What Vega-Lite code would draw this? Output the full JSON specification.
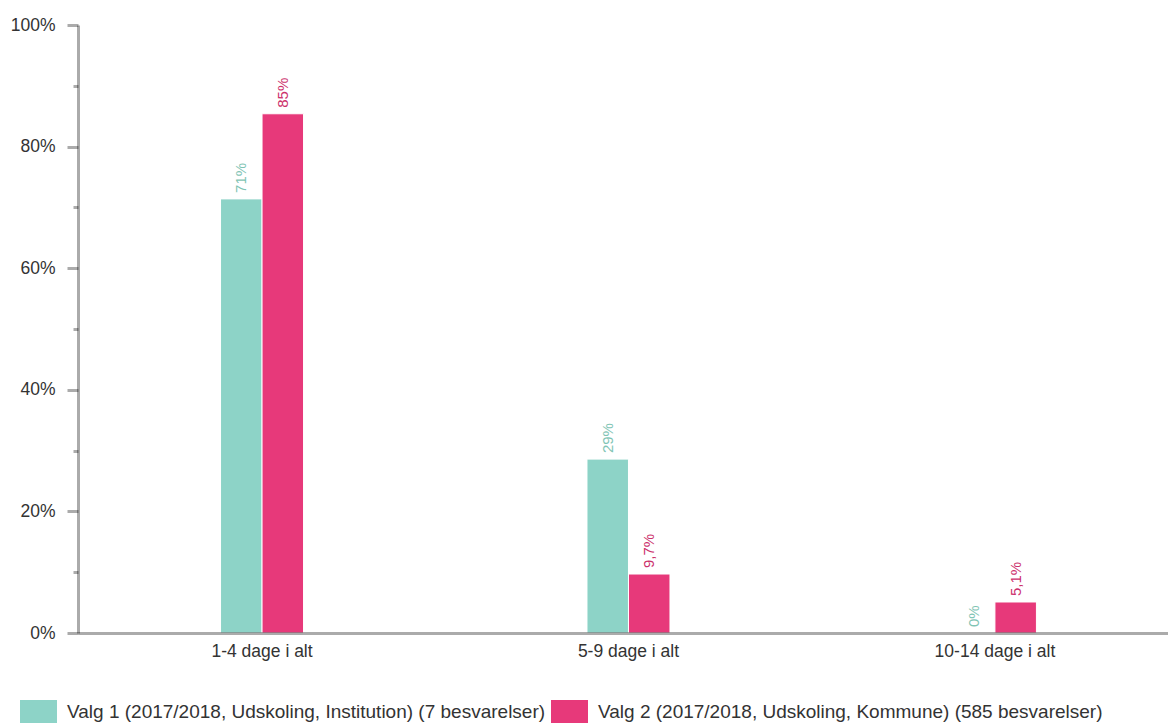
{
  "$schema": "https://vega.github.io/schema/vega-lite/v6.json",
  "width": 1090,
  "height": 608,
  "autosize": {"type": "pad"},
  "padding": {"left": 10, "top": 16, "right": 0, "bottom": 0},
  "background": "white",
  "config": {
    "view": {"stroke": null},
    "font": "Liberation Sans",
    "axis": {"labelFont": "Liberation Sans", "labelColor": "#333333", "labelFontSize": 17.5, "grid": false}
  },
  "data": {
    "values": [
      {"kategori": "1-4 dage i alt", "serie": "Valg 1 (2017/2018, Udskoling, Institution) (7 besvarelser)", "andel": 0.714, "label": "71%"},
      {"kategori": "1-4 dage i alt", "serie": "Valg 2 (2017/2018, Udskoling, Kommune) (585 besvarelser)", "andel": 0.854, "label": "85%"},
      {"kategori": "5-9 dage i alt", "serie": "Valg 1 (2017/2018, Udskoling, Institution) (7 besvarelser)", "andel": 0.286, "label": "29%"},
      {"kategori": "5-9 dage i alt", "serie": "Valg 2 (2017/2018, Udskoling, Kommune) (585 besvarelser)", "andel": 0.097, "label": "9,7%"},
      {"kategori": "10-14 dage i alt", "serie": "Valg 1 (2017/2018, Udskoling, Institution) (7 besvarelser)", "andel": 0.0, "label": "0%"},
      {"kategori": "10-14 dage i alt", "serie": "Valg 2 (2017/2018, Udskoling, Kommune) (585 besvarelser)", "andel": 0.051, "label": "5,1%"}
    ]
  },
  "encoding": {
    "x": {
      "field": "kategori", "type": "nominal", "sort": null,
      "scale": {"paddingInner": 0.7735, "paddingOuter": 0.374, "align": 0.52},
      "axis": {"title": null, "labelAngle": 0, "ticks": false, "labelPadding": 9, "domainColor": "#000000", "domainOpacity": 0.33, "domainWidth": 3, "zindex": 1}
    },
    "xOffset": {"field": "serie", "type": "nominal", "sort": null, "scale": {"paddingInner": 0, "paddingOuter": 0}},
    "y": {
      "field": "andel", "type": "quantitative",
      "scale": {"domain": [0, 1], "nice": false, "zero": true},
      "axis": {
        "title": null,
        "values": [0, 0.1, 0.2, 0.3, 0.4, 0.5, 0.6, 0.7, 0.8, 0.9, 1],
        "labelExpr": "round(datum.value*10) % 2 == 1 ? '' : format(datum.value, '.0%')",
        "tickSize": {"condition": {"test": "round(datum.value*10) % 2 == 1", "value": 5}, "value": 11},
        "labelPadding": 12,
        "domainColor": "#000000", "domainOpacity": 0.33, "domainWidth": 3,
        "tickColor": "#000000", "tickOpacity": 0.33, "tickWidth": 3
      }
    }
  },
  "layer": [
    {
      "mark": {"type": "bar", "stroke": "white", "strokeWidth": 1},
      "encoding": {
        "color": {
          "field": "serie", "type": "nominal", "sort": null,
          "scale": {"range": ["#8dd3c7", "#e7397a"]},
          "legend": {
            "title": null, "orient": "none", "legendX": -58, "legendY": 668,
            "direction": "horizontal", "columns": 2, "columnPadding": 5,
            "symbolType": "M-1,-0.62L1,-0.62L1,0.62L-1,0.62Z", "symbolSize": 1369,
            "symbolStrokeWidth": 0, "symbolOpacity": 1,
            "labelFont": "Liberation Sans", "labelFontSize": 19, "labelColor": "#333333",
            "labelOffset": 10, "labelLimit": 600
          }
        }
      }
    },
    {
      "mark": {"type": "text", "angle": 270, "align": "left", "baseline": "middle", "dx": 6, "fontSize": 15, "font": "Liberation Sans"},
      "encoding": {
        "text": {"field": "label"},
        "color": {
          "field": "serie", "type": "nominal", "sort": null,
          "scale": {"range": ["#7fc4b4", "#cc316c"]},
          "legend": null
        }
      }
    }
  ],
  "resolve": {"scale": {"color": "independent"}}
}
